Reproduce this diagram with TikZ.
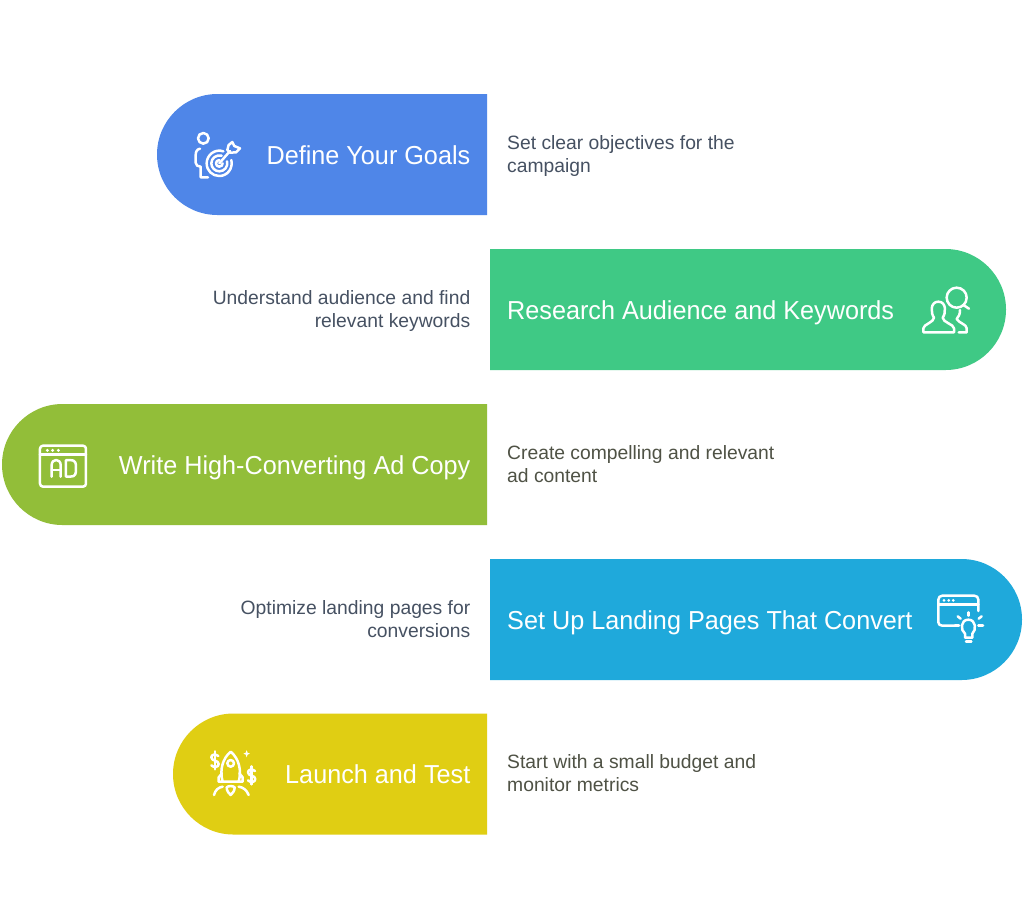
\documentclass[tikz,border=0pt]{standalone}
\usepackage{fontspec}
\setmainfont{Liberation Sans}
\newfontfamily\titlefont[FakeStretch=0.97]{Liberation Sans}
\definecolor{cblue}{HTML}{4F86E8}
\definecolor{cgreen}{HTML}{3FC985}
\definecolor{colive}{HTML}{92BE39}
\definecolor{ccyan}{HTML}{1FA9DB}
\definecolor{cyellow}{HTML}{E0CE13}
\definecolor{tslate}{HTML}{465162}
\definecolor{tolive}{HTML}{4F5245}
\tikzset{
  title/.style={text=white,font=\titlefont\fontsize{26}{30}\selectfont,inner sep=0pt},
  bodyr/.style={text=tslate,font=\fontsize{19.3}{23}\selectfont,inner sep=0pt,align=left,anchor=north west},
  bodyl/.style={text=tslate,font=\fontsize{19.3}{23}\selectfont,inner sep=0pt,align=right,anchor=north east},
  ico/.style={draw=white,line width=2.5,line cap=round,line join=round,fill=none},
}
\begin{document}
\begin{tikzpicture}[x=1pt,y=-1pt]
\useasboundingbox (0,0) rectangle (1024,898);
\fill[white] (0,0) rectangle (1024,898);
% pills
\fill[cblue] (487,94) -- (217.5,94) arc[start angle=270,end angle=90,radius=60.5] -- (487,215) -- cycle;
\fill[cgreen] (490,249) -- (945.5,249) arc[start angle=-90,end angle=90,radius=60.5] -- (490,370) -- cycle;
\fill[colive] (487,404) -- (62.5,404) arc[start angle=270,end angle=90,radius=60.5] -- (487,525) -- cycle;
\fill[ccyan] (490,559) -- (961.5,559) arc[start angle=-90,end angle=90,radius=60.5] -- (490,680) -- cycle;
\fill[cyellow] (487,713.5) -- (233.5,713.5) arc[start angle=270,end angle=90,radius=60.5] -- (487,834.5) -- cycle;
% titles
\node[title,anchor=base east] (t1) at (470.5,164) {Define Your Goals};
\node[title,anchor=base west] (t2) at (507,319) {Research Audience and Keywords};
\node[title,anchor=base east] (t3) at (470.5,474) {Write High-Converting Ad Copy};
\node[title,anchor=base west] (t4) at (507,629) {Set Up Landing Pages That Convert};
\node[title,anchor=base east] (t5) at (470.5,783) {Launch and Test};
% descriptions
\node[bodyr] (d1) at (507,135.5) {Set clear objectives for the\\campaign};
\node[bodyl] (d2) at (470.5,290.5) {Understand audience and find\\relevant keywords};
\node[bodyr,text=tolive] (d3) at (507,445.5) {Create compelling and relevant\\ad content};
\node[bodyl] (d4) at (470.5,600.5) {Optimize landing pages for\\conversions};
\node[bodyr,text=tolive] (d5) at (507,754.5) {Start with a small budget and\\monitor metrics};
% icon 1
\begin{scope}[shift={(180,120)},x=0.3333pt,y=-0.3333pt,ico]
\draw (70,55) circle[radius=16];
\draw (60,86) .. controls (50,88) and (47,96) .. (47,106) -- (47,128) .. controls (47,136) and (54,140) .. (62,140) -- (62,172) -- (84,172);
\draw (130,94) .. controls (105,85) and (80,105) .. (80,130) .. controls (80,152) and (97,168) .. (118,168) .. controls (142,168) and (160,145) .. (154,120);
\draw (125,107) .. controls (108,103) and (94,115) .. (94,130) .. controls (94,143) and (105,154) .. (118,154) .. controls (133,154) and (145,140) .. (141,124);
\draw (118,120) .. controls (112,120) and (108,125) .. (108,130) .. controls (108,136) and (112,140) .. (118,140) .. controls (124,140) and (128,135) .. (128,130);
\draw (118,130) -- (150,93);
\draw (142,90) -- (146,75) -- (157,66) -- (163,78) -- (180,85) -- (168,97) -- (150,98) -- cycle;
\end{scope}
% icon 2
\begin{scope}[shift={(910,275)},x=0.3333pt,y=-0.3333pt,ico]
\draw (140,68) circle[radius=30];
\draw (160,90) -- (177,101);
\draw (40,172) -- (40,160) .. controls (40,148) and (72,142) .. (72,128) .. controls (62,115) and (60,80) .. (85,80) .. controls (110,80) and (108,115) .. (98,128) .. controls (98,142) and (132,148) .. (132,160) -- (132,172) -- cycle;
\draw (150,105) .. controls (150,118) and (146,125) .. (140,132) .. controls (148,145) and (170,148) .. (170,160) -- (170,172) -- (146,172);
\end{scope}
% icon 3
\begin{scope}[shift={(30,435)},x=0.3333pt,y=-0.3333pt,ico]
\draw[rounded corners=3pt] (30,32) rectangle (168,155);
\draw (30,58) -- (168,58);
\foreach \q in {52,68,85} \fill[white,draw=none] (\q,46) circle[radius=5];
\draw (65,125) -- (65,90) .. controls (65,70) and (92,70) .. (92,90) -- (92,125);
\draw (65,105) -- (92,105);
\draw (108,75) -- (108,125) -- (120,125) .. controls (138,125) and (138,115) .. (138,100) .. controls (138,85) and (138,75) .. (120,75) -- cycle;
\end{scope}
% icon 4
\begin{scope}[shift={(925,585)},x=0.3333pt,y=-0.3333pt,ico]
\draw (92,122) -- (52,122) .. controls (45,122) and (40,118) .. (40,112) -- (40,44) .. controls (40,37) and (45,32) .. (52,32) -- (148,32) .. controls (155,32) and (160,37) .. (160,44) -- (160,78);
\draw (40,58) -- (160,58);
\foreach \q in {57,71,85} \fill[white,draw=none] (\q,46) circle[radius=4.5];
\draw (120,146) .. controls (106,136) and (106,104) .. (130,104) .. controls (154,104) and (154,136) .. (142,146) -- (142,158) -- (120,158) -- cycle;
\draw (123,170) -- (139,170);
\draw (130,82) -- (130,92);
\draw (98,94) -- (107,101);
\draw (161,101) -- (170,94);
\draw (90,122) -- (102,122);
\draw (160,122) -- (174,122);
\end{scope}
% icon 5
\begin{scope}[shift={(200,740)},x=0.3333pt,y=-0.3333pt,ico]
\draw (68,125) .. controls (58,90) and (68,55) .. (92,35) .. controls (116,55) and (126,90) .. (116,125) -- cycle;
\draw (92,70) circle[radius=10];
\draw (66,100) -- (56,112) -- (56,125) -- (68,125);
\draw (118,100) -- (128,112) -- (128,125) -- (116,125);
\draw (80,142) .. controls (80,155) and (88,160) .. (92,165) .. controls (96,160) and (104,155) .. (104,142) .. controls (100,137) and (84,137) .. (80,142) -- cycle;
\draw (42,165) .. controls (46,150) and (55,142) .. (68,140);
\draw (116,140) .. controls (130,142) and (140,150) .. (146,165);
\draw (55,48) .. controls (45,40) and (34,44) .. (34,52) .. controls (34,64) and (56,60) .. (56,72) .. controls (56,82) and (42,84) .. (34,76);
\draw (45,34) -- (45,88);
\draw (165,93) .. controls (155,85) and (144,89) .. (144,97) .. controls (144,109) and (166,105) .. (166,117) .. controls (166,127) and (152,129) .. (144,121);
\draw (155,79) -- (155,133);
\fill[white,draw=none] (140,30) .. controls (141,38) and (143,40) .. (150,41) .. controls (143,42) and (141,44) .. (140,52) .. controls (139,44) and (137,42) .. (130,41) .. controls (137,40) and (139,38) .. (140,30) -- cycle;
\end{scope}
\end{tikzpicture}
\end{document}
